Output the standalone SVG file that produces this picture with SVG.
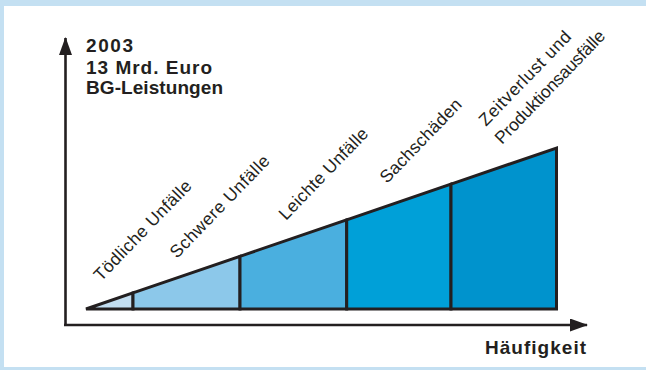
<svg xmlns="http://www.w3.org/2000/svg" width="646" height="370" viewBox="0 0 646 370">
<style>
.frame{fill:#c4e0f2}
.seg{stroke:#231f20;stroke-width:3;stroke-linejoin:miter}
.ax{stroke:#231f20;stroke-width:2.6;fill:none}
.lbl{font-family:"Liberation Sans",Arial,sans-serif;font-size:17.5px;fill:#231f20}
.ttl{font-family:"Liberation Sans",Arial,sans-serif;font-size:19px;font-weight:bold;fill:#231f20}
</style>
<defs>
<marker id="arr" viewBox="0 0 18 13" refX="17" refY="6.5" markerWidth="18" markerHeight="13" markerUnits="userSpaceOnUse" orient="auto">
<path d="M0,0 L18,6.5 L0,13 Z" fill="#231f20"/>
</marker>
</defs>
<rect class="frame" x="0" y="0" width="646" height="6"/>
<rect class="frame" x="0" y="0" width="4" height="370"/>
<rect class="frame" x="0" y="367" width="646" height="3"/>

<g id="connectors">
<path class="ax" d="M65.5,325 L65.5,38" marker-end="url(#arr)"/>
<path class="ax" d="M64,325 L587,325" marker-end="url(#arr)"/>
</g>

<g id="seg1"><path class="seg" fill="#c3def1" d="M86,309 L133,292.9 L133,309 Z"/></g>
<g id="seg2"><path class="seg" fill="#8cc8ea" d="M133,292.9 L240,256.3 L240,309 L133,309 Z"/></g>
<g id="seg3"><path class="seg" fill="#4aafdf" d="M240,256.3 L346.7,219.8 L346.7,309 L240,309 Z"/></g>
<g id="seg4"><path class="seg" fill="#00a0d8" d="M346.7,219.8 L451,184.1 L451,309 L346.7,309 Z"/></g>
<g id="seg5"><path class="seg" fill="#0093cd" d="M451,184.1 L556.5,148 L556.5,309 L451,309 Z"/></g>

<g id="title">
<text class="ttl" x="86" y="52" textLength="47">2003</text>
<text class="ttl" x="86" y="74" textLength="126">13 Mrd. Euro</text>
<text class="ttl" x="86" y="94" textLength="137">BG-Leistungen</text>
</g>

<g id="label-toedlich"><text class="lbl" transform="translate(101,282) rotate(-46)" textLength="132">Tödliche Unfälle</text></g>
<g id="label-schwer"><text class="lbl" transform="translate(177,259) rotate(-46)" textLength="135">Schwere Unfälle</text></g>
<g id="label-leicht"><text class="lbl" transform="translate(286,221) rotate(-46)" textLength="120">Leichte Unfälle</text></g>
<g id="label-sach"><text class="lbl" transform="translate(387,184) rotate(-46)" textLength="109">Sachschäden</text></g>
<g id="label-zeit">
<text class="lbl" transform="translate(486,127) rotate(-46)" textLength="124">Zeitverlust und</text>
<text class="lbl" transform="translate(502,145) rotate(-46)" textLength="150">Produktionsausfälle</text>
</g>

<g id="xlabel"><text class="ttl" x="485" y="354" textLength="101">Häufigkeit</text></g>
</svg>
